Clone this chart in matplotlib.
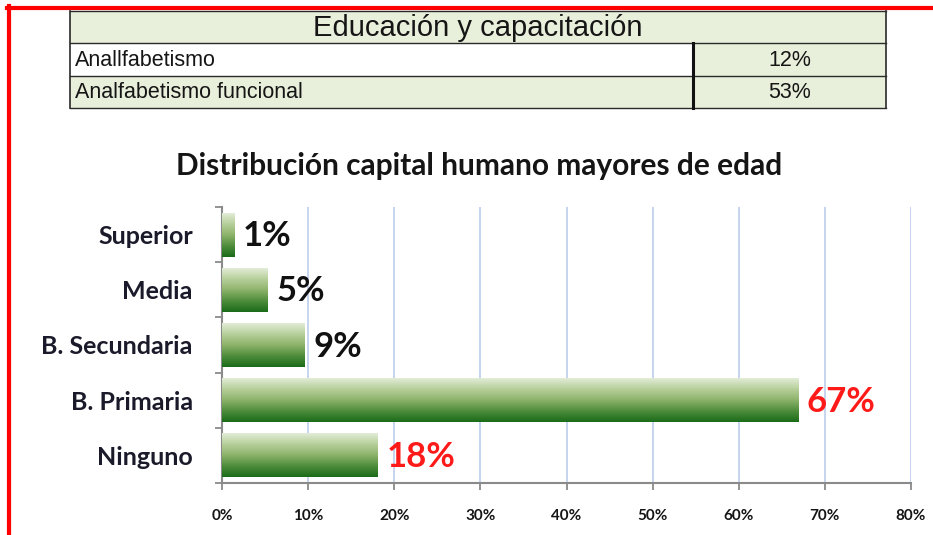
import matplotlib

matplotlib.use("Agg")
import matplotlib.pyplot as plt
import numpy as np
from matplotlib.colors import LinearSegmentedColormap
from matplotlib.lines import Line2D
from matplotlib.patches import Rectangle

# data
categories = ["Ninguno", "B. Primaria", "B. Secundaria", "Media", "Superior"]
values = [18.1, 66.9, 9.6, 5.3, 1.4]
value_labels = ["18%", "67%", "9%", "5%", "1%"]
label_colors = ["#ff1a1a", "#ff1a1a", "#111111", "#111111", "#111111"]
x_ticks = [0, 10, 20, 30, 40, 50, 60, 70, 80]

table_title = "Educación y capacitación"
table_rows = ["Anallfabetismo", "Analfabetismo funcional"]
table_values = ["12%", "53%"]

W, H = 933, 535
_GREEN_CELL = "#e8efdb"
_GRID = "#c6d5ee"
_AXIS = "#8a8a8a"
_TXT = "#151515"
_NARROW = ["Liberation Sans Narrow", "Liberation Sans", "DejaVu Sans"]
_BODY = ["Lato", "DejaVu Sans"]

fig = plt.figure(figsize=(W / 100, H / 100), dpi=100)
fig.patch.set_facecolor("white")


def fx(px):
    return px / W


def fy(py):
    return 1 - py / H


# red frame (top and left only)
fig.add_artist(Line2D([fx(7), 1], [fy(8), fy(8)], color="red", lw=3.0, transform=fig.transFigure))
fig.add_artist(Line2D([fx(9), fx(9)], [fy(6), 0], color="red", lw=3.0, transform=fig.transFigure))

# table
tl, tr, tdiv = 70, 886, 693
ty = [11, 43, 76, 108]


def cell(x0, y0, x1, y1, fc):
    fig.add_artist(Rectangle((fx(x0), fy(y1)), fx(x1) - fx(x0), fy(y0) - fy(y1),
                             transform=fig.transFigure, facecolor=fc, edgecolor="none"))


cell(tl, ty[0], tr, ty[1], _GREEN_CELL)
cell(tl, ty[1], tdiv, ty[2], "white")
cell(tdiv, ty[1], tr, ty[2], _GREEN_CELL)
cell(tl, ty[2], tr, ty[3], _GREEN_CELL)

for yy in ty:
    fig.add_artist(Line2D([fx(tl), fx(tr)], [fy(yy), fy(yy)], color="#2a2a2a", lw=1.0,
                          transform=fig.transFigure))
for xx, lw in [(tl, 1.2), (tr, 1.2)]:
    fig.add_artist(Line2D([fx(xx), fx(xx)], [fy(ty[0]), fy(ty[3])], color="#2a2a2a", lw=lw,
                          transform=fig.transFigure))
fig.add_artist(Line2D([fx(tdiv), fx(tdiv)], [fy(ty[1]), fy(ty[3])], color="#111111", lw=2.2,
                      transform=fig.transFigure))

fig.text(fx((tl + tr) / 2), fy((ty[0] + ty[1]) / 2 + 1), table_title, ha="center", va="center",
         fontsize=21, family=_NARROW, color=_TXT)
for i, (name, val) in enumerate(zip(table_rows, table_values)):
    yc = fy((ty[i + 1] + ty[i + 2]) / 2 + 1)
    fig.text(fx(tl + 5), yc, name, ha="left", va="center", fontsize=15.5, family=_NARROW, color=_TXT)
    fig.text(fx((tdiv + tr) / 2), yc, val, ha="center", va="center", fontsize=15.5, family=_NARROW,
             color=_TXT)

# chart title
fig.text(fx(479), fy(166), "Distribución capital humano mayores de edad", ha="center", va="center",
         fontsize=21.5, fontweight="bold", family=_BODY, color=_TXT)

# bar chart
ax = fig.add_axes([fx(222), fy(483), fx(911) - fx(222), fy(207) - fy(483)])
y = np.arange(len(categories))
bar_h = 0.8
bars = ax.barh(y, values, height=bar_h, color="none", edgecolor="none", zorder=3)

grad = LinearSegmentedColormap.from_list(
    "bar_green", ["#e6efdd", "#b9d19e", "#8fb46c", "#4f8d3c", "#196b19"])
ramp = np.linspace(0, 1, 256).reshape(-1, 1)
for b in bars:
    x0, y0 = b.get_x(), b.get_y()
    img = ax.imshow(ramp, cmap=grad, aspect="auto", origin="upper",
                    extent=(x0, x0 + b.get_width(), y0, y0 + b.get_height()), zorder=3)
    img.set_clip_path(b)

for yi, v, lab, c in zip(y, values, value_labels, label_colors):
    ax.text(v + 1.0, yi - 0.03, lab, ha="left", va="center", fontsize=25, fontweight="bold",
            family=_BODY, color=c, zorder=4)

ax.set_xlim(0, 80)
ax.set_ylim(-0.5, len(categories) - 0.5)
ax.set_xticks(x_ticks)
ax.set_xticklabels([f"{t}%" for t in x_ticks], fontsize=11, fontweight="bold", family=_BODY,
                   color=_TXT)
ax.set_yticks(y)
ax.set_yticklabels(categories, fontsize=18, fontweight="bold", family=_BODY, color="#1a1a2a")
ax.set_yticks(np.arange(-0.5, len(categories)), minor=True)
ax.tick_params(axis="y", which="major", length=0, pad=21)
ax.tick_params(axis="y", which="minor", length=5, width=1.3, color=_AXIS, direction="out")
ax.tick_params(axis="x", length=5, width=1.3, color=_AXIS, direction="out", pad=14)
ax.grid(axis="x", color=_GRID, lw=1.4, zorder=0)
ax.set_axisbelow(True)
for side in ("top", "right"):
    ax.spines[side].set_visible(False)
for side in ("left", "bottom"):
    ax.spines[side].set_color(_AXIS)
    ax.spines[side].set_linewidth(1.5)

fig.savefig("out.png", dpi=100, facecolor="white")
plt.close(fig)
